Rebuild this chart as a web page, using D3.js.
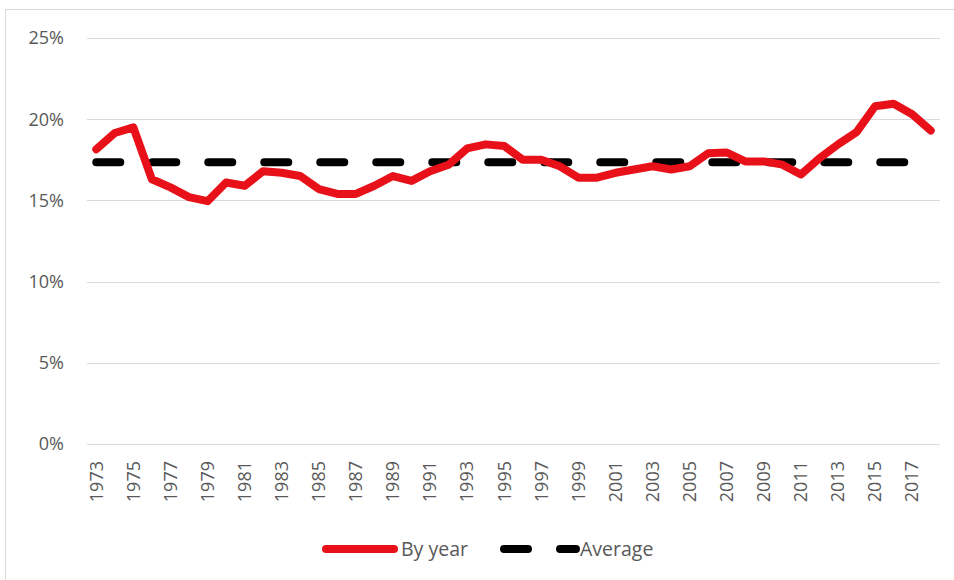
<!DOCTYPE html>
<html>
<head>
<meta charset="utf-8">
<script src="https://cdn.jsdelivr.net/npm/d3@7"></script>
<style>
  body { margin: 0; background: #fff; }
  text { font-family: "Open Sans", "Noto Sans", sans-serif; fill: #595959; }
</style>
</head>
<body>
<svg id="chart" width="954" height="580"></svg>
<script>
const years = d3.range(1973, 2019);
const byYear = [
  18.15, 19.15, 19.5, 16.3, 15.8, 15.2, 14.95, 16.1, 15.9, 16.8,
  16.7, 16.5, 15.7, 15.4, 15.4, 15.9, 16.5, 16.2, 16.8, 17.2,
  18.2, 18.45, 18.35, 17.5, 17.5, 17.1, 16.4, 16.4, 16.7, 16.9,
  17.1, 16.9, 17.1, 17.9, 17.95, 17.4, 17.4, 17.2, 16.6, 17.6,
  18.45, 19.2, 20.8, 20.95, 20.3, 19.3
];
const averageValue = 17.35;
const yTicks = [0, 5, 10, 15, 20, 25];
const legendItems = ["By year", "Average"];

const svg = d3.select("#chart");

// outer chart border
svg.append("rect")
  .attr("x", 5.5).attr("y", 9.5)
  .attr("width", 980).attr("height", 620)
  .attr("fill", "none").attr("stroke", "#d9d9d9");

const plotLeft = 87, plotRight = 940, plotTop = 38, plotBottom = 444;

const x = d3.scaleBand().domain(years).range([plotLeft, plotRight]);
const y = d3.scaleLinear().domain([0, 25]).range([plotBottom, plotTop]);
const cx = d => x(d) + x.bandwidth() / 2;

// gridlines
svg.append("g")
  .selectAll("line")
  .data(yTicks)
  .join("line")
  .attr("x1", plotLeft).attr("x2", plotRight)
  .attr("y1", d => Math.round(y(d)) + 0.5)
  .attr("y2", d => Math.round(y(d)) + 0.5)
  .attr("stroke", "#d9d9d9");

// y labels
svg.append("g")
  .selectAll("text")
  .data(yTicks)
  .join("text")
  .attr("x", 64)
  .attr("y", d => y(d))
  .attr("dy", "0.35em")
  .attr("text-anchor", "end")
  .style("font-size", "18px")
  .text(d => d + "%");

// x labels, every other year
svg.append("g")
  .selectAll("text")
  .data(years.filter((d, i) => i % 2 === 0))
  .join("text")
  .attr("transform", d => `translate(${cx(d)},461) rotate(-90)`)
  .attr("dy", "0.35em")
  .attr("text-anchor", "end")
  .style("font-size", "18px")
  .text(d => d);

// average dashed line
svg.append("line")
  .attr("x1", cx(years[0])).attr("x2", cx(years[years.length - 1]))
  .attr("y1", y(averageValue)).attr("y2", y(averageValue))
  .attr("stroke", "#000")
  .attr("stroke-width", 8)
  .attr("stroke-linecap", "round")
  .attr("stroke-dasharray", "24,32");

// by-year line
const line = d3.line()
  .x((d, i) => cx(years[i]))
  .y(d => y(d));

svg.append("path")
  .datum(byYear)
  .attr("d", line)
  .attr("fill", "none")
  .attr("stroke", "#e8111a")
  .attr("stroke-width", 8)
  .attr("stroke-linecap", "round")
  .attr("stroke-linejoin", "round");

// legend
const ly = 549;
const legend = svg.append("g");
legend.append("line")
  .attr("x1", 326).attr("x2", 394)
  .attr("y1", ly).attr("y2", ly)
  .attr("stroke", "#e8111a").attr("stroke-width", 8)
  .attr("stroke-linecap", "round");
legend.append("text")
  .attr("x", 401).attr("y", ly).attr("dy", "0.35em")
  .style("font-size", "19.5px")
  .text(legendItems[0]);
legend.append("line")
  .attr("x1", 504).attr("x2", 576)
  .attr("y1", ly).attr("y2", ly)
  .attr("stroke", "#000").attr("stroke-width", 8)
  .attr("stroke-linecap", "round")
  .attr("stroke-dasharray", "24,32");
legend.append("text")
  .attr("x", 580).attr("y", ly).attr("dy", "0.35em")
  .style("font-size", "19.5px")
  .text(legendItems[1]);
</script>
</body>
</html>
